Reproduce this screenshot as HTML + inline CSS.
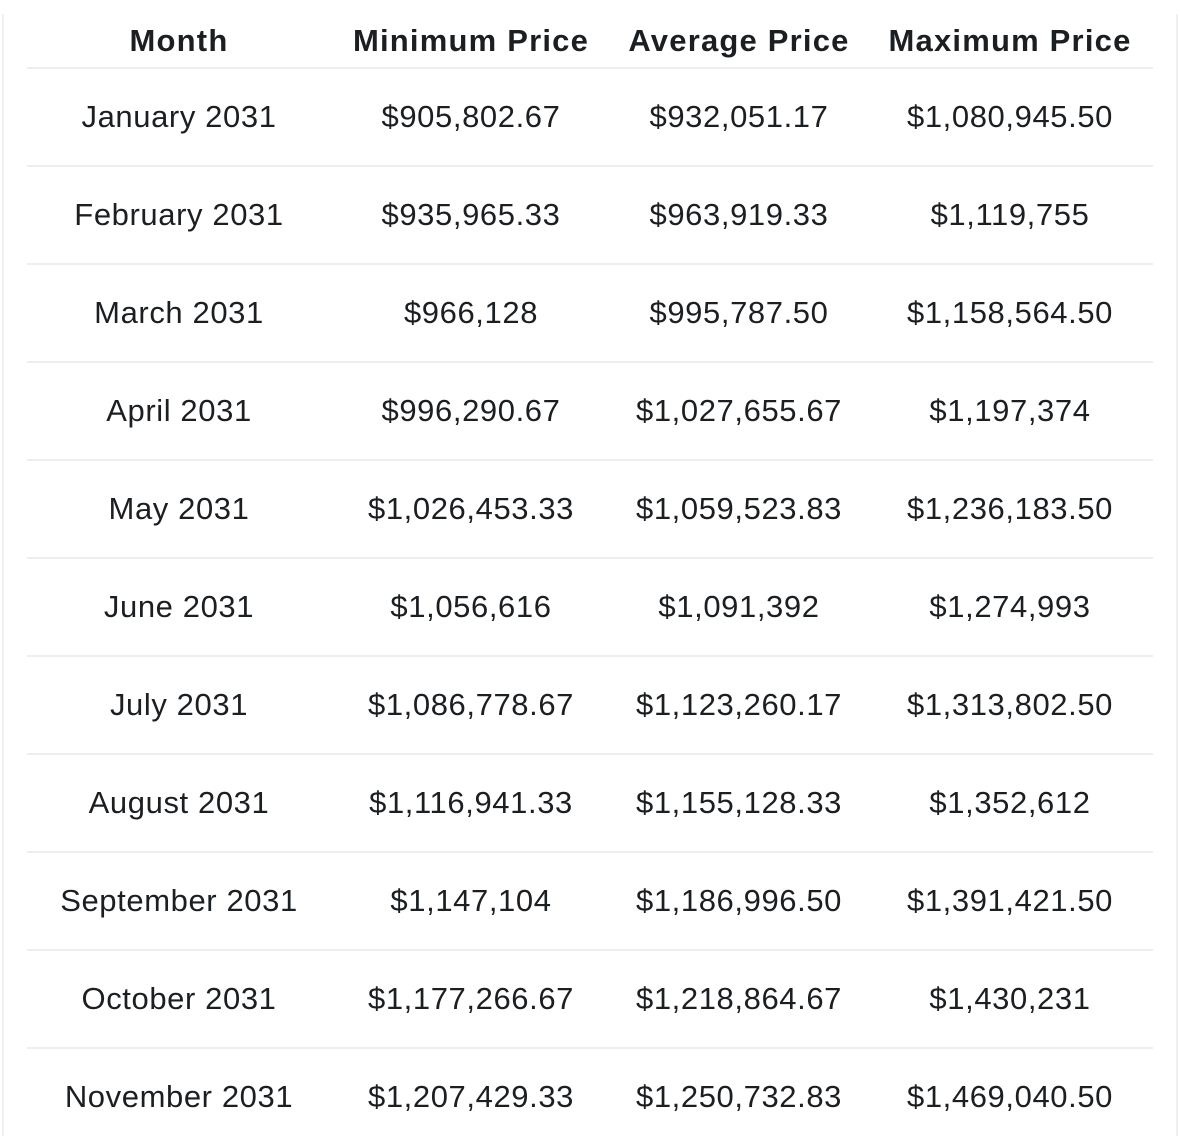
<!DOCTYPE html>
<html><head><style>
body{margin:0;width:1180px;height:1136px;background:#fff;position:relative;overflow:hidden;font-family:"Liberation Sans",sans-serif;color:#1c1f22}
.v{position:absolute;top:14px;bottom:0;width:2px;background:#f0f0f0}
.h{position:absolute;left:27px;width:1126px;height:2px;background:#eeeeee}
.c{position:absolute;transform:translate(-50%,-50%);white-space:nowrap;font-size:31px;letter-spacing:0.6px}
.b{font-weight:bold;letter-spacing:1.2px}
</style></head><body>
<div class="v" style="left:2px"></div><div class="v" style="left:1176px"></div>
<div id="t"></div>
<script>
const rows=[["January 2031","$905,802.67","$932,051.17","$1,080,945.50"],["February 2031","$935,965.33","$963,919.33","$1,119,755"],["March 2031","$966,128","$995,787.50","$1,158,564.50"],["April 2031","$996,290.67","$1,027,655.67","$1,197,374"],["May 2031","$1,026,453.33","$1,059,523.83","$1,236,183.50"],["June 2031","$1,056,616","$1,091,392","$1,274,993"],["July 2031","$1,086,778.67","$1,123,260.17","$1,313,802.50"],["August 2031","$1,116,941.33","$1,155,128.33","$1,352,612"],["September 2031","$1,147,104","$1,186,996.50","$1,391,421.50"],["October 2031","$1,177,266.67","$1,218,864.67","$1,430,231"],["November 2031","$1,207,429.33","$1,250,732.83","$1,469,040.50"]];
const xs=[179,471,739,1010];let h="";
["Month","Minimum Price","Average Price","Maximum Price"].forEach((t,i)=>h+=`<div class="c b" style="left:${xs[i]}px;top:41px">${t}</div>`);
h+=`<div class="h" style="top:67px"></div>`;
rows.forEach((r,j)=>{const y=117+98*j;r.forEach((t,i)=>h+=`<div class="c" style="left:${xs[i]}px;top:${y}px">${t}</div>`);if(j<10)h+=`<div class="h" style="top:${165+98*j}px"></div>`;});
document.getElementById("t").innerHTML=h;
</script>
</body></html>
